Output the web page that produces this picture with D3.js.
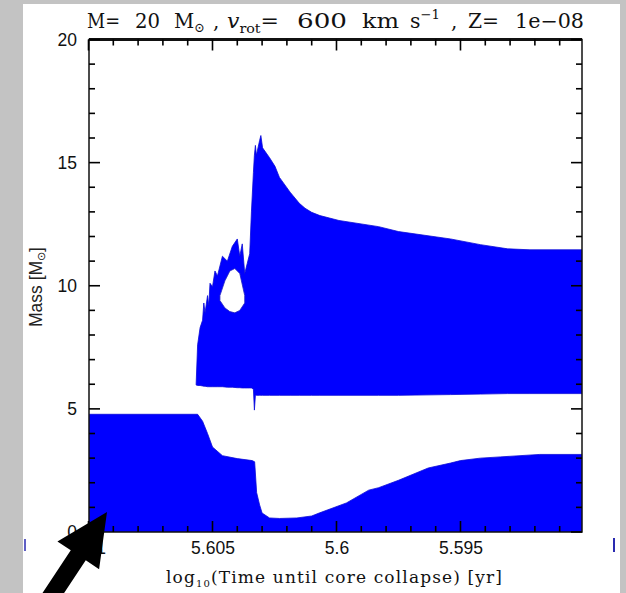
<!DOCTYPE html>
<html>
<head>
<meta charset="utf-8">
<script src="https://cdn.jsdelivr.net/npm/d3@7"></script>
<style>
  body { margin: 0; background: #c3c3c3; }
  svg { display: block; }
  text { white-space: pre; }
</style>
</head>
<body>
<div id="chart"></div>
<script>
// core convective zone (bottom is the centre, 0)
const coreTime = [5.6100, 5.6056, 5.6054, 5.6052, 5.6050, 5.6046, 5.6040, 5.6034, 5.6033, 5.60322, 5.6031, 5.6030, 5.6027,
                  5.6023, 5.6016, 5.6010, 5.6007, 5.5996, 5.5987, 5.5983, 5.5975, 5.5963, 5.5954, 5.5950, 5.5942, 5.5934, 5.5918, 5.5901];
const coreTop = [4.78, 4.78, 4.5, 4.0, 3.45, 3.1, 2.98, 2.9, 2.85, 1.6, 1.1, 0.77, 0.57,
                 0.55, 0.57, 0.65, 0.77, 1.18, 1.7, 1.8, 2.1, 2.6, 2.8, 2.9, 3.0, 3.05, 3.15, 3.15];

// shell convective zone
const shellTime = [5.60566, 5.6056, 5.6055, 5.6054, 5.60535, 5.6053, 5.6052, 5.60515, 5.6051, 5.6050, 5.6049, 5.6048, 5.6046, 5.6044,
                   5.6042, 5.6040, 5.6039, 5.6038, 5.6037, 5.6036, 5.6035, 5.60343, 5.60335, 5.60331, 5.60327, 5.60323, 5.6031, 5.60305,
                   5.60298, 5.6027, 5.60248, 5.6023, 5.60187, 5.6015, 5.60127, 5.6010, 5.60067, 5.5999, 5.5983, 5.5975, 5.5954, 5.5942,
                   5.5931, 5.5922, 5.5901];
const shellBottom = [5.97, 5.95, 5.95, 5.93, 5.92, 5.92, 5.9, 5.9, 5.9, 5.9, 5.9, 5.9, 5.9, 5.88,
                     5.88, 5.86, 5.86, 5.85, 5.85, 5.85, 5.85, 5.85, 5.8, 4.95, 5.55, 5.55, 5.55, 5.55,
                     5.55, 5.55, 5.55, 5.55, 5.55, 5.55, 5.55, 5.55, 5.55, 5.55, 5.55, 5.55, 5.58, 5.6,
                     5.62, 5.62, 5.62];
const shellTop = [6.0, 7.6, 8.3, 8.6, 9.3, 8.9, 9.6, 9.2, 10.1, 9.96, 10.6, 10.4, 11.2, 11.0,
                  11.6, 11.9, 11.2, 11.7, 10.5, 10.9, 11.3, 13.0, 14.6, 15.3, 15.7, 15.3, 15.9, 16.1,
                  15.6, 15.2, 14.85, 14.4, 13.8, 13.35, 13.15, 12.98, 12.85, 12.65, 12.4, 12.2, 11.9, 11.67,
                  11.5, 11.46, 11.46];

// radiative pocket inside the shell zone
const pocketTime = [5.6047, 5.6045, 5.6043, 5.6041, 5.6039, 5.6037];
const pocketBottom = [9.4, 9.1, 8.95, 8.9, 9.0, 9.3];
const pocketTop = [9.6, 10.2, 10.6, 10.7, 10.5, 9.6];

const xMajor = [5.61, 5.605, 5.6, 5.595];
const xMajorLabels = ["5.61", "5.605", "5.6", "5.595"];
const xMinor = [5.609, 5.608, 5.607, 5.606, 5.604, 5.603, 5.602, 5.601, 5.599, 5.598, 5.597, 5.596, 5.594, 5.593, 5.592, 5.591];
const yMajor = [0, 5, 10, 15, 20];
const yMinor = [1, 2, 3, 4, 6, 7, 8, 9, 11, 12, 13, 14, 16, 17, 18, 19];

const W = 626, H = 593;
const pLeft = 89, pRight = 582, pTop = 39.5, pBottom = 532;

const svg = d3.select("#chart").append("svg")
    .attr("width", W)
    .attr("height", H);

// grey frame + white page
svg.append("rect").attr("width", W).attr("height", H).attr("fill", "#c3c3c3");
svg.append("rect").attr("x", 23).attr("y", 4).attr("width", 597).attr("height", H - 4).attr("fill", "white");

const x = d3.scaleLinear().domain([5.6100, 5.5901]).range([88.5, pRight]);
const y = d3.scaleLinear().domain([0, 20]).range([pBottom, pTop]);

svg.append("clipPath").attr("id", "plotclip")
    .append("rect").attr("x", pLeft).attr("y", pTop).attr("width", pRight - pLeft).attr("height", pBottom - pTop);

const plot = svg.append("g").attr("clip-path", "url(#plotclip)");

const zone = d3.area()
    .x(d => x(d.t))
    .y0(d => y(d.b))
    .y1(d => y(d.top));

const core = coreTime.map((t, i) => ({t: t, b: 0, top: coreTop[i]}));
const shell = shellTime.map((t, i) => ({t: t, b: shellBottom[i], top: shellTop[i]}));
const pocket = pocketTime.map((t, i) => ({t: t, b: pocketBottom[i], top: pocketTop[i]}));

plot.append("path").datum(core)
    .attr("d", zone)
    .attr("fill", "#0000ff")
    .attr("stroke", "#0a0ad8")
    .attr("stroke-width", 0.8);

plot.append("path").datum(shell)
    .attr("d", zone)
    .attr("fill", "#0000ff")
    .attr("stroke", "#0a0ad8")
    .attr("stroke-width", 0.8);

plot.append("path").datum(pocket)
    .attr("d", zone)
    .attr("fill", "white")
    .attr("stroke", "#2020c0")
    .attr("stroke-width", 0.8);

// frame
svg.append("rect")
    .attr("x", pLeft).attr("y", pTop)
    .attr("width", pRight - pLeft).attr("height", pBottom - pTop)
    .attr("fill", "none").attr("stroke", "#111").attr("stroke-width", 1.5);
svg.append("line")
    .attr("x1", pLeft).attr("x2", pRight).attr("y1", pTop).attr("y2", pTop)
    .attr("stroke", "#111").attr("stroke-width", 3);

// tick labels
function styleAxis(g) {
    g.select(".domain").remove();
    g.selectAll(".tick line").remove();
    g.selectAll(".tick text").attr("fill", "#111")
        .attr("font-family", "Liberation Sans, Arial, sans-serif")
        .attr("font-size", 17.5);
}
svg.append("g").attr("transform", `translate(0,${pBottom})`)
    .call(d3.axisBottom(x).tickValues(xMajor).tickSize(0).tickPadding(10)
        .tickFormat((d, i) => xMajorLabels[i]))
    .call(styleAxis);
svg.append("g").attr("transform", `translate(${pLeft},0)`)
    .call(d3.axisLeft(y).tickValues(yMajor).tickSize(0).tickPadding(12))
    .call(styleAxis);

// title, PGPLOT-style wide glyphs and spacing
const serif = "DejaVu Serif, Liberation Serif, serif";
const title = svg.append("g")
    .attr("font-family", serif)
    .attr("font-size", 20)
    .attr("fill", "#111");
function tword(xpos, width, txt) {
    const t = title.append("text").attr("x", xpos).attr("y", 28).text(txt);
    if (width) t.attr("textLength", width).attr("lengthAdjust", "spacingAndGlyphs");
    return t;
}
tword(87, 33, "M=");
tword(135, 25, "20");
const tm = tword(174, 31, "M");
tm.append("tspan").attr("font-size", 13).attr("dy", 4).text("⊙");
tword(213, 0, ",");
const tv = tword(227, 52, "");
tv.append("tspan").attr("font-style", "italic").text("v");
tv.append("tspan").attr("font-size", 13).attr("dy", 5).text("rot");
tv.append("tspan").attr("dy", -5).text("=");
tword(297, 50, "600");
tword(362, 37, "km");
const ts = tword(410, 30, "s");
ts.append("tspan").attr("font-size", 13).attr("dy", -9).text("−1");
tword(451, 0, ",");
tword(468, 31, "Z=");
tword(515, 69, "1e−08");

// x label
const xl = svg.append("text")
    .attr("x", 166).attr("y", 583)
    .attr("textLength", 336)
    .attr("lengthAdjust", "spacing")
    .attr("font-family", serif)
    .attr("font-size", 17)
    .attr("fill", "#111");
xl.append("tspan").text("log");
xl.append("tspan").attr("font-size", 10).attr("dy", 4).text("10");
xl.append("tspan").attr("dy", -4).text("(Time until core collapse) [yr]");

// y label
const yl = svg.append("text")
    .attr("transform", "translate(42,287) rotate(-90)")
    .attr("text-anchor", "middle")
    .attr("font-family", "Liberation Sans, Arial, sans-serif")
    .attr("font-size", 17.5)
    .attr("fill", "#222");
yl.append("tspan").text("Mass [M");
yl.append("tspan").attr("font-size", 11).attr("dy", 3).text("⊙");
yl.append("tspan").attr("dy", -3).text("]");

// tick marks on all four sides, pointing inward
const tickG = svg.append("g").attr("stroke", "#000").attr("stroke-width", 1.6);

function xTicks(vals, len) {
    tickG.append("g").selectAll("line").data(vals).join("line")
        .attr("x1", d => x(d)).attr("x2", d => x(d))
        .attr("y1", pBottom).attr("y2", pBottom - len);
    tickG.append("g").selectAll("line").data(vals).join("line")
        .attr("x1", d => x(d)).attr("x2", d => x(d))
        .attr("y1", pTop).attr("y2", pTop + len);
}
function yTicks(vals, len) {
    tickG.append("g").selectAll("line").data(vals).join("line")
        .attr("y1", d => y(d)).attr("y2", d => y(d))
        .attr("x1", pLeft).attr("x2", pLeft + len);
    tickG.append("g").selectAll("line").data(vals).join("line")
        .attr("y1", d => y(d)).attr("y2", d => y(d))
        .attr("x1", pRight).attr("x2", pRight - len);
}
xTicks(xMajor, 11);
xTicks(xMinor, 6);
yTicks(yMajor, 11);
yTicks(yMinor, 6);

// stray blue marks at the page edge
svg.append("line").attr("x1", 25).attr("x2", 25).attr("y1", 539).attr("y2", 551)
    .attr("stroke", "#2a2ab0").attr("stroke-width", 1.5);
svg.append("line").attr("x1", 614).attr("x2", 614).attr("y1", 538).attr("y2", 552)
    .attr("stroke", "#2a2ab0").attr("stroke-width", 2);

// black arrow pointing at the start of the track
const tip = [107, 512], tail = [46, 604];
const len = Math.hypot(tip[0] - tail[0], tip[1] - tail[1]);
const u = [(tip[0] - tail[0]) / len, (tip[1] - tail[1]) / len];
const n = [-u[1], u[0]];
const headLen = 52, headHalf = 25, shaftHalf = 9;
const base = [tip[0] - u[0] * headLen, tip[1] - u[1] * headLen];
const pts = [
    tip,
    [base[0] + n[0] * headHalf, base[1] + n[1] * headHalf],
    [base[0] + n[0] * shaftHalf, base[1] + n[1] * shaftHalf],
    [tail[0] + n[0] * shaftHalf, tail[1] + n[1] * shaftHalf],
    [tail[0] - n[0] * shaftHalf, tail[1] - n[1] * shaftHalf],
    [base[0] - n[0] * shaftHalf, base[1] - n[1] * shaftHalf],
    [base[0] - n[0] * headHalf, base[1] - n[1] * headHalf]
];
svg.append("path")
    .attr("d", d3.line()(pts) + "Z")
    .attr("fill", "black");
</script>
</body>
</html>
